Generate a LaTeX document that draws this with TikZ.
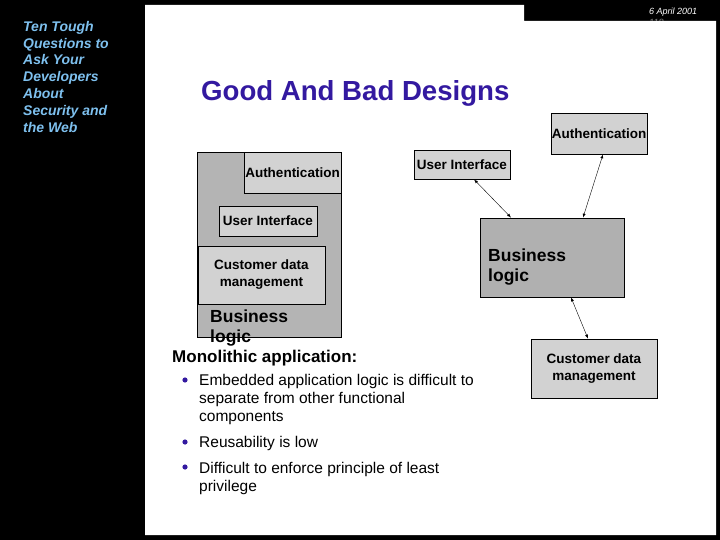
\documentclass[tikz,border=0pt]{standalone}
\usepackage{fontspec}
\setmainfont{Liberation Sans}
\usepackage{tikz}
\usetikzlibrary{positioning}
\definecolor{titleblue}{RGB}{51,25,160}
\definecolor{sideblue}{RGB}{126,192,238}
\definecolor{monogray}{RGB}{180,180,180}
\definecolor{partgray}{RGB}{210,210,210}
\definecolor{logicgray}{RGB}{176,176,176}
\newcommand{\partfont}{\fontsize{13.5}{17}\selectfont\bfseries}
\newcommand{\logicfont}{\fontsize{17.5}{20}\selectfont\bfseries}
\newcommand{\itemfont}{\fontsize{15.5}{18}\selectfont}
\tikzset{
  part/.style={draw=black, line width=0.8pt, fill=partgray, inner sep=0pt,
    font=\partfont, align=center},
  link/.style={latex-latex, thin},
  dot/.style={fill=titleblue}
}

\begin{document}
\begin{tikzpicture}[x=1pt,y=-1pt]
        % Background
        \useasboundingbox (0,0) rectangle (720,540);
        \fill[black] (0,0) rectangle (720,540);
        \node[anchor=west, inner sep=0pt, text=white, font=\fontsize{9}{10}\selectfont\itshape] (date) at (649,12) {6 April 2001};
        \node[anchor=west, inner sep=0pt, text=gray, font=\fontsize{9}{10}\selectfont\itshape] (page) at (649,22.5) {118};
        \fill[white] (145,5) -- (524,5) -- (524,21) -- (716,21) -- (716,535) -- (145,535) -- cycle;
        % Side title
        \node[anchor=north west, inner sep=0pt, align=left, text=sideblue,
          font=\fontsize{14}{16.8}\selectfont\bfseries\itshape] (side) at (23,21)
          {Ten Tough\\Questions to\\Ask Your\\Developers\\About\\Security and\\the Web};
        % Title
        \node[anchor=west, inner sep=0pt, text=titleblue, font=\fontsize{27.6}{30}\selectfont\bfseries] (title) at (201,93) {Good And Bad Designs};
        % Monolithic application
        \node[draw=black, line width=0.8pt, fill=monogray, minimum width=144pt, minimum height=185pt] (mono) at (269,244.5) {};
        \node[part, minimum width=97pt, minimum height=41pt] (authL) at (292.5,172.5) {Authentication};
        \node[part, minimum width=98pt, minimum height=30pt] (uiL) at (268,221) {User Interface};
        \node[part, minimum width=127pt, minimum height=58pt] (cdmL) at (261.5,275) {Customer data\\management};
        \node[anchor=west, inner sep=0pt, align=left, font=\logicfont] (blL) at (210,328) {Business\\logic};
        \node[anchor=west, inner sep=0pt, font=\fontsize{17}{20}\selectfont\bfseries] (monoLabel) at (172,358) {Monolithic application:};
        % Bullets
        \foreach \y in {380,442,467}
          \fill[dot] (185,\y) circle (2.6pt);
        \node[anchor=north west, inner sep=0pt, align=left, font=\itemfont] (itemA) at (199,374)
          {Embedded application logic is difficult to\\separate from other functional\\components};
        \node[anchor=north west, inner sep=0pt, align=left, font=\itemfont] (itemB) at (199,436) {Reusability is low};
        \node[anchor=north west, inner sep=0pt, align=left, font=\itemfont] (itemC) at (199,462)
          {Difficult to enforce principle of least\\privilege};
        % Layered design
        \node[part, minimum width=96pt, minimum height=41pt] (authR) at (599,133.5) {Authentication};
        \node[part, minimum width=96pt, minimum height=29pt] (uiR) at (462,164.5) {User Interface};
        \node[part, fill=logicgray, minimum width=144pt, minimum height=79pt] (blR) at (552,257.5) {};
        \node[anchor=west, inner sep=0pt, align=left, font=\logicfont] (blText) at (488,267) {Business\\logic};
        \node[part, minimum width=126pt, minimum height=59pt] (cdmR) at (594,368.5) {Customer data\\management};
        % Links
        \draw[link] ([xshift=12pt]uiR.south) -- ([xshift=-41pt]blR.north);
        \draw[link] ([xshift=4pt]authR.south) -- ([xshift=31pt]blR.north);
        \draw[link] ([xshift=19pt]blR.south) -- ([xshift=-6pt]cdmR.north);
      \end{tikzpicture}
\end{document}
